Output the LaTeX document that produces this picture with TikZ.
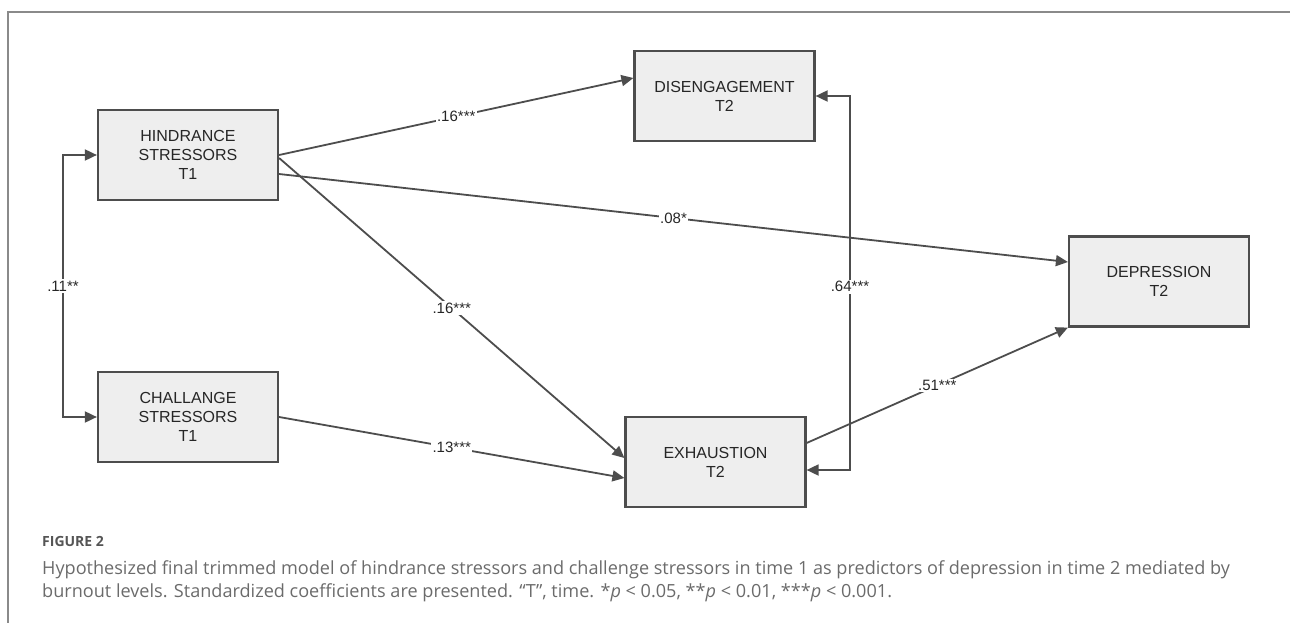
\documentclass[tikz,border=0pt]{standalone}
\usepackage{fontspec}
\setmainfont{Liberation Sans}
\newfontfamily\captionfont{Open Sans}
\usetikzlibrary{arrows.meta}
\definecolor{boxgray}{HTML}{EEEEEE}
\definecolor{linegray}{HTML}{4D4D4D}
\definecolor{framegray}{HTML}{8A8A8A}
\definecolor{captiongray}{HTML}{6B6B6B}
\definecolor{labelgray}{HTML}{555555}
\tikzset{
varboxv1/.style={rectangle, draw=linegray, fill=boxgray, line width=2.2pt, inner sep=0pt, minimum width=180pt, minimum height=90pt, align=center, text=black!85, font=\fontsize{16}{19}\selectfont},
pathv1/.style={line width=1.8pt, draw=linegray, -{Triangle[length=12pt,width=11pt]}},
pathv2/.style={line width=1.8pt, draw=linegray, {Triangle[length=12pt,width=11pt]}-{Triangle[length=12pt,width=11pt]}},
coefv1/.style={fill=white, inner sep=1.5pt, text=black!85, font=\fontsize{15}{15}\selectfont},
captionv1/.style={anchor=base west, inner sep=0pt, text=captiongray, font=\captionfont\fontsize{18.1}{22}\selectfont},
}
\begin{document}
\begin{tikzpicture}[x=1pt,y=-1pt]
        \useasboundingbox (0,0) rectangle (1290,623);
        \draw[framegray,line width=1.5pt] (1290,12) -- (8,12) -- (8,623);

        \node[varboxv1] at (188,155) (hind) {HINDRANCE\\STRESSORS\\T1};
        \node[varboxv1] at (188,417) (chal) {CHALLANGE\\STRESSORS\\T1};
        \node[varboxv1] at (724.5,96) (dis) {DISENGAGEMENT\\T2};
        \node[varboxv1] at (715.5,462) (exh) {EXHAUSTION\\T2};
        \node[varboxv1] at (1159,281.5) (dep) {DEPRESSION\\T2};

        \coordinate (lefttop) at (63,155);
        \coordinate (leftbot) at (63,417);
        \coordinate (righttop) at (850,96);
        \coordinate (rightbot) at (850,470);

        \draw[pathv2] (hind.west) -- (lefttop) -- node[coefv1,midway] (c11) {.11**} (leftbot) -- (chal.west);
        \draw[pathv2] (dis.east) -- (righttop) -- node[coefv1,pos=0.51] (c64) {.64***} (rightbot) -- ([yshift=-8pt]exh.east);

        \draw[pathv1] (hind.east) -- node[coefv1,midway] (c16a) {.16***} ([yshift=18pt]dis.west);
        \draw[pathv1] ([yshift=-19pt]hind.east) -- node[coefv1,midway] (c08) {.08*} ([yshift=19.5pt]dep.west);
        \draw[pathv1] ([yshift=-3pt]hind.east) -- node[coefv1,midway] (c16b) {.16***} ([yshift=4pt]exh.west);
        \draw[pathv1] (chal.east) -- node[coefv1,midway] (c13) {.13***} ([yshift=-16pt]exh.west);
        \draw[pathv1] ([yshift=19pt]exh.east) -- node[coefv1,midway] (c51) {.51***} (dep.south west);

        \node[anchor=base west, inner sep=0pt, text=labelgray, font=\captionfont\bfseries\fontsize{14}{14}\selectfont] at (42,546) (figlabel) {FIGURE 2};
        \node[captionv1] at (42,574) (captionone) {Hypothesized final trimmed model of hindrance stressors and challenge stressors in time 1 as predictors of depression in time 2 mediated by};
        \node[captionv1] at (42,597) (captiontwo) {burnout levels. Standardized coefficients are presented. “T”, time. *{\itshape p} < 0.05, **{\itshape p} < 0.01, ***{\itshape p} < 0.001.};
    \end{tikzpicture}
\end{document}
